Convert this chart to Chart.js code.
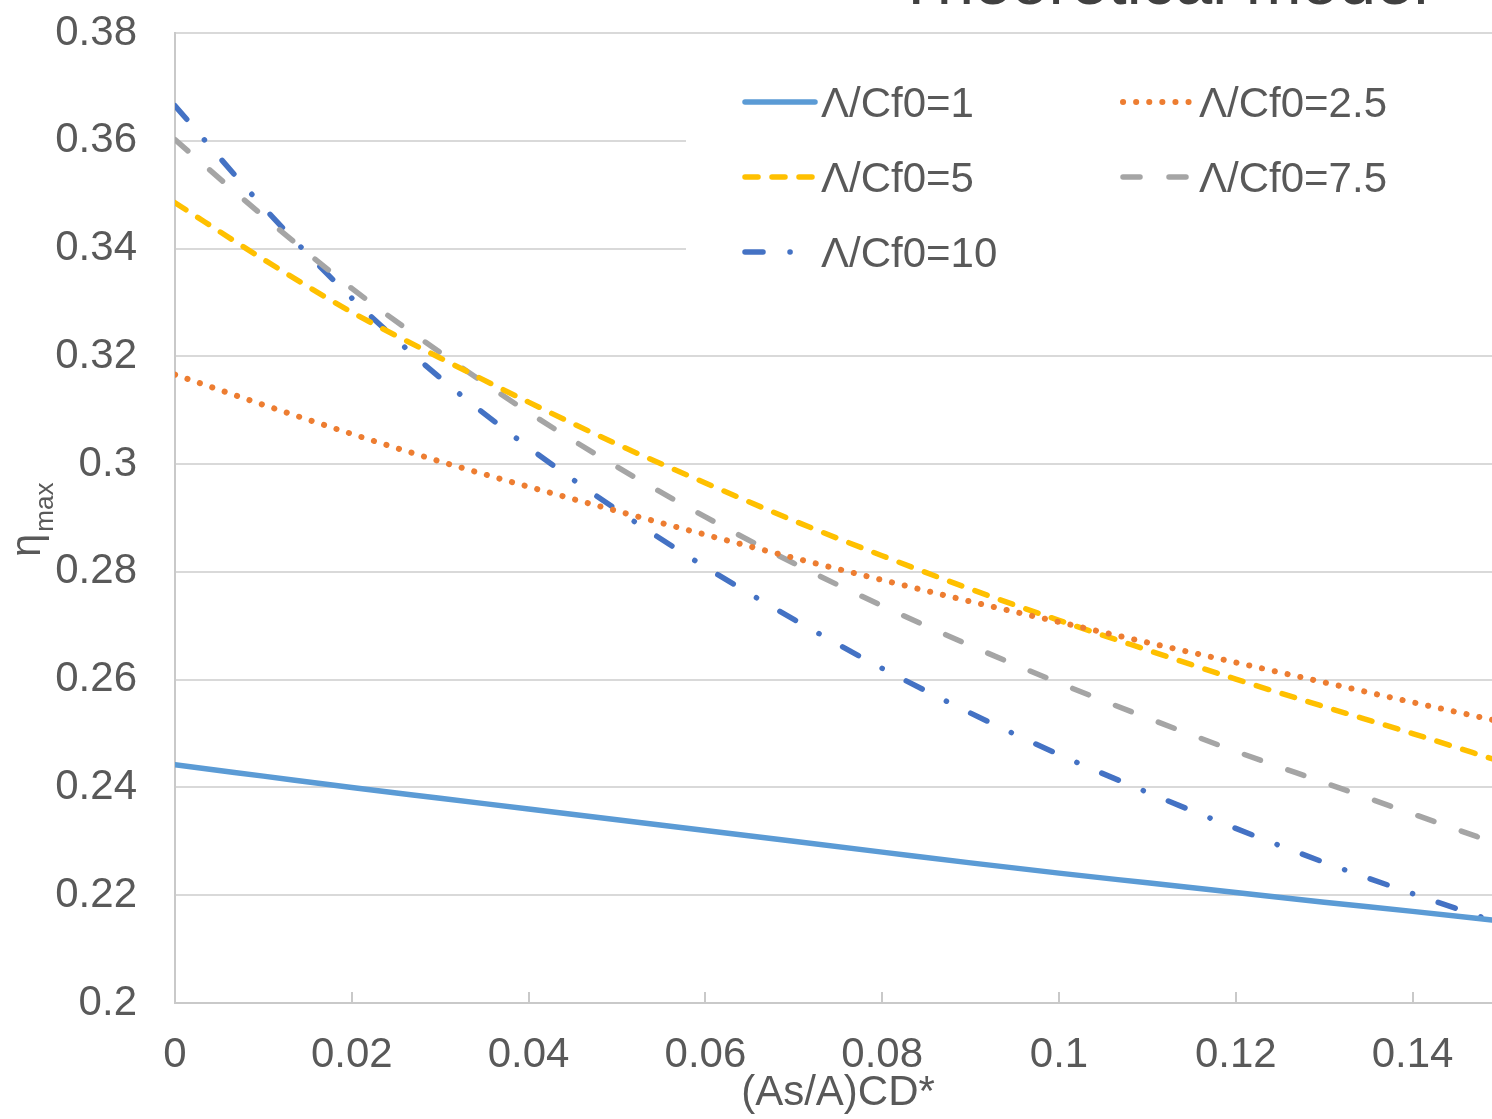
<!DOCTYPE html>
<html>
<head>
<meta charset="utf-8">
<title>Theoretical model</title>
<script src="https://cdn.jsdelivr.net/npm/chart.js@4/dist/chart.umd.min.js"></script>
<style>
  html, body { margin: 0; padding: 0; background: #fff; overflow: hidden; }
  #wrap { width: 1492px; height: 1119px; overflow: hidden; }
</style>
</head>
<body>
<div id="wrap"><canvas id="chart" width="1520" height="1119"></canvas></div>
<script>
// x = (As/A)CD*
const xValues = [0, 0.01, 0.02, 0.03, 0.04, 0.05, 0.06, 0.07, 0.08, 0.09, 0.1, 0.11, 0.12, 0.13, 0.14, 0.15];

// eta_max for each Λ/Cf0
const cf1  = [0.2442, 0.2421, 0.2400, 0.2380, 0.2360, 0.2340, 0.2320, 0.2300, 0.2280, 0.2260, 0.2241, 0.2223, 0.2205, 0.2187, 0.2170, 0.2152];
const cf25 = [0.3166, 0.3110, 0.3056, 0.3005, 0.2958, 0.2913, 0.2869, 0.2826, 0.2785, 0.2745, 0.2707, 0.2669, 0.2632, 0.2595, 0.2558, 0.2522];
const cf5  = [0.3485, 0.3380, 0.3282, 0.3197, 0.3115, 0.3037, 0.2965, 0.2895, 0.2830, 0.2768, 0.2710, 0.2655, 0.2601, 0.2550, 0.2500, 0.2448];
const cf75 = [0.3602, 0.3460, 0.3326, 0.3207, 0.3096, 0.2995, 0.2902, 0.2816, 0.2737, 0.2663, 0.2594, 0.2529, 0.2467, 0.2409, 0.2351, 0.2293];
const cf10 = [0.3665, 0.3477, 0.3308, 0.3160, 0.3031, 0.2915, 0.2809, 0.2712, 0.2621, 0.2538, 0.2461, 0.2391, 0.2324, 0.2261, 0.2203, 0.2147];

const seriesLabels = ["Λ/Cf0=1", "Λ/Cf0=2.5", "Λ/Cf0=5", "Λ/Cf0=7.5", "Λ/Cf0=10"];
const yTicks = [0.2, 0.22, 0.24, 0.26, 0.28, 0.3, 0.32, 0.34, 0.36, 0.38];

const FONT = '"Liberation Sans", Arial, sans-serif';
const TEXT = "#595959";

function toPoints(ys) {
  return xValues.map((x, i) => ({ x: x, y: ys[i] }));
}

function makeSet(label, ys, color, dash, width) {
  return {
    label: label,
    data: toPoints(ys),
    borderColor: color,
    borderWidth: width,
    borderDash: dash,
    borderCapStyle: "round",
    borderJoinStyle: "round",
    pointRadius: 0,
    cubicInterpolationMode: "monotone",
    fill: false,
  };
}

// title, y axis title and the boxed legend, Excel style
const decor = {
  id: "decor",
  afterDraw(chart) {
    const ctx = chart.ctx;
    ctx.save();

    // chart title sits mostly above the visible frame
    ctx.fillStyle = "#404040";
    ctx.font = "67px " + FONT;
    ctx.textAlign = "center";
    ctx.textBaseline = "alphabetic";
    ctx.fillText("Theoretical model", 1162, 4);

    // y title: eta with "max" subscript
    ctx.save();
    ctx.translate(40, 557);
    ctx.rotate(-Math.PI / 2);
    ctx.fillStyle = TEXT;
    ctx.textAlign = "left";
    ctx.font = "42px " + FONT;
    ctx.fillText("η", 0, 0);
    const w = ctx.measureText("η").width;
    ctx.font = "26px " + FONT;
    ctx.fillText("max", w + 2, 13);
    ctx.restore();

    // legend box
    ctx.fillStyle = "#ffffff";
    ctx.fillRect(686, 52, 840, 245);
    const cols = [745, 1123];
    const rows = [102, 177, 252];
    chart.data.datasets.forEach((ds, i) => {
      const x = cols[i % 2];
      const y = rows[Math.floor(i / 2)];
      ctx.save();
      ctx.strokeStyle = ds.borderColor;
      ctx.lineWidth = ds.borderWidth;
      ctx.lineCap = "round";
      ctx.setLineDash(ds.borderDash || []);
      ctx.beginPath();
      ctx.moveTo(x, y);
      ctx.lineTo(x + 70, y);
      ctx.stroke();
      ctx.restore();
      ctx.fillStyle = TEXT;
      ctx.font = "42px " + FONT;
      ctx.textAlign = "left";
      ctx.textBaseline = "alphabetic";
      ctx.fillText(ds.label, x + 76, y + 15);
    });

    ctx.restore();
  },
};

new Chart(document.getElementById("chart"), {
  type: "line",
  data: {
    datasets: [
      makeSet(seriesLabels[0], cf1, "#5B9BD5", [], 5.5),
      makeSet(seriesLabels[1], cf25, "#ED7D31", [0.1, 13], 6),
      makeSet(seriesLabels[2], cf5, "#FFC000", [13, 14], 5.5),
      makeSet(seriesLabels[3], cf75, "#A5A5A5", [17, 29], 5.5),
      makeSet(seriesLabels[4], cf10, "#4472C4", [18, 27, 0.1, 27], 5.5),
    ],
  },
  options: {
    responsive: false,
    animation: false,
    layout: { padding: { left: 0, top: 33, right: 19, bottom: 0 } },
    plugins: {
      legend: { display: false },
      tooltip: { enabled: false },
    },
    scales: {
      x: {
        type: "linear",
        min: 0,
        max: 0.15,
        afterFit(scale) {
          scale.height = 116;
          scale.paddingLeft = 0;
          scale.paddingRight = 0;
        },
        ticks: {
          stepSize: 0.02,
          includeBounds: false,
          color: TEXT,
          font: { family: FONT, size: 42 },
          padding: 38,
          maxRotation: 0,
          callback: (v) => String(+v.toFixed(2)),
        },
        grid: {
          drawOnChartArea: false,
          drawTicks: true,
          tickLength: -11,
          color: "#C9C9C9",
          lineWidth: 2,
        },
        border: { display: true, color: "#C9C9C9", width: 2 },
        title: {
          display: true,
          text: "(As/A)CD*",
          color: TEXT,
          font: { family: FONT, size: 42 },
          padding: { top: 0, bottom: 0 },
        },
      },
      y: {
        min: 0.2,
        max: 0.38,
        afterFit(scale) {
          scale.width = 175;
          scale.paddingTop = 0;
          scale.paddingBottom = 0;
        },
        afterBuildTicks(scale) { scale.ticks = yTicks.map((v) => ({ value: v })); },
        ticks: {
          color: TEXT,
          font: { family: FONT, size: 42 },
          padding: 38,
          callback: (v) => String(+v.toFixed(2)),
        },
        grid: { color: "#D9D9D9", lineWidth: 2, drawTicks: false },
        border: { display: true, color: "#C9C9C9", width: 2 },
      },
    },
  },
  plugins: [decor],
});
</script>
</body>
</html>
